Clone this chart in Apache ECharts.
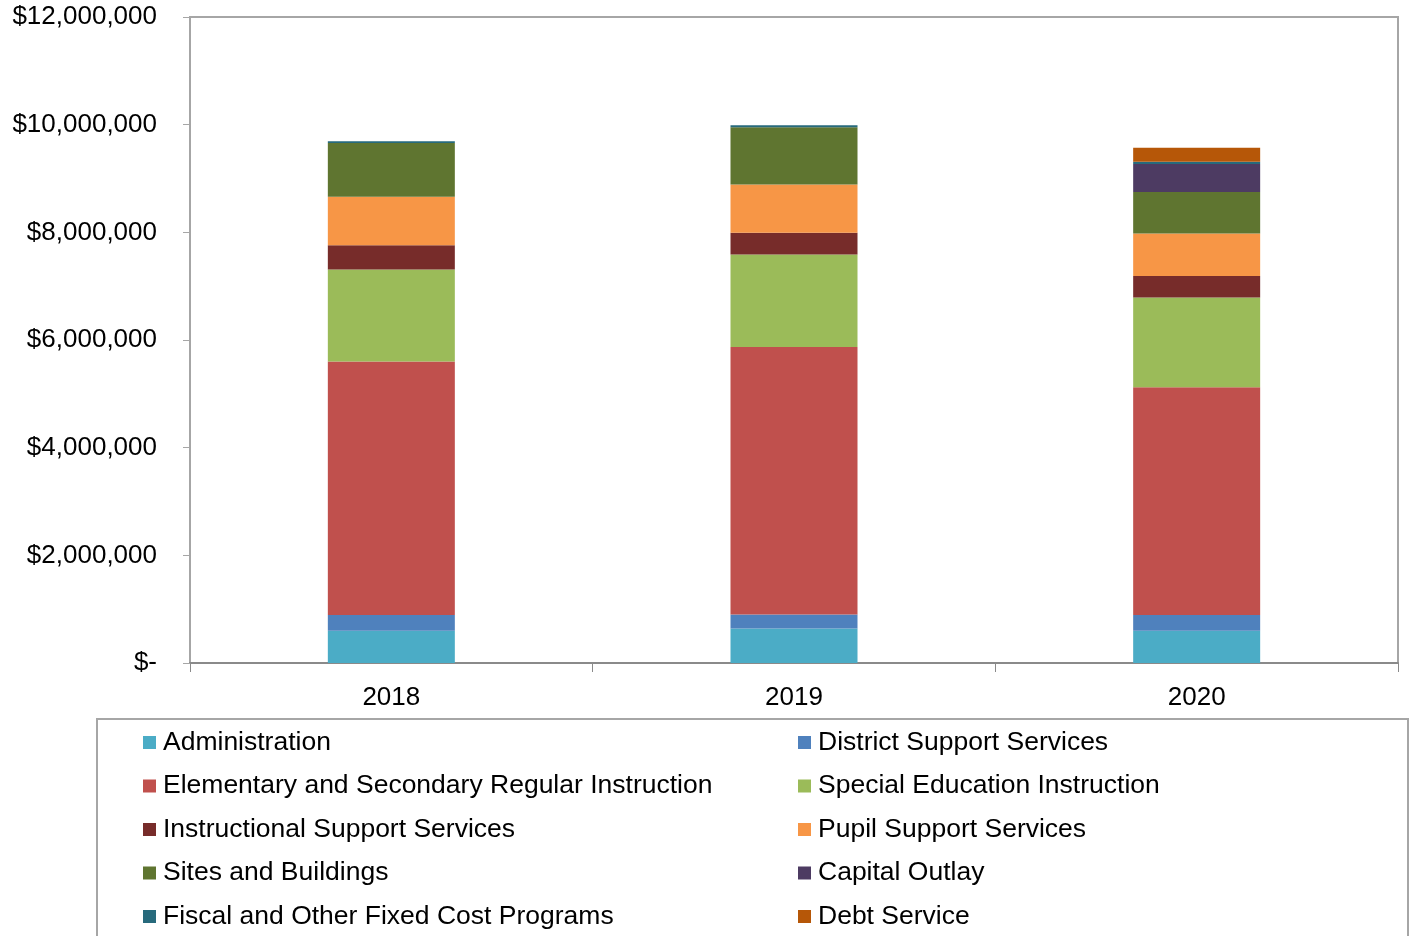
<!DOCTYPE html>
<html>
<head>
<meta charset="utf-8">
<script src="https://cdn.jsdelivr.net/npm/echarts@6/dist/echarts.min.js"></script>
<style>
html,body{margin:0;padding:0;background:#fff;}
#chart{width:1409px;height:936px;}
</style>
</head>
<body>
<div id="chart"></div>
<script>
const years = ['2018', '2019', '2020'];
const seriesNames = [
  'Administration', 'District Support Services',
  'Elementary and Secondary Regular Instruction', 'Special Education Instruction',
  'Instructional Support Services', 'Pupil Support Services',
  'Sites and Buildings', 'Capital Outlay',
  'Fiscal and Other Fixed Cost Programs', 'Debt Service'
];
const administration = [600000, 640000, 600000];
const districtSupport = [290000, 260000, 290000];
const elementarySecondary = [4710000, 4970000, 4230000];
const specialEducation = [1710000, 1720000, 1670000];
const instructionalSupport = [450000, 400000, 400000];
const pupilSupport = [900000, 900000, 790000];
const sitesBuildings = [1000000, 1060000, 770000];
const capitalOutlay = [0, 0, 520000];
const fiscalOther = [30000, 40000, 40000];
const debtService = [0, 0, 260000];
const yTicks = [0, 2000000, 4000000, 6000000, 8000000, 10000000, 12000000];

const values = [administration, districtSupport, elementarySecondary, specialEducation,
  instructionalSupport, pupilSupport, sitesBuildings, capitalOutlay, fiscalOther, debtService];
const colors = ['#4BACC6', '#4F81BD', '#C0504D', '#9BBB59', '#772C2A', '#F79646',
  '#5F7530', '#4D3B62', '#276A7C', '#B65708'];

const font = '"Liberation Sans", Arial, sans-serif';
const fs = 26;
const chart = echarts.init(document.getElementById('chart'));

const rowCenters = [742, 785.5, 829, 872.5, 916];
const colLefts = [143, 798];
const legends = seriesNames.map((name, i) => ({
  orient: 'horizontal', left: colLefts[i % 2], top: rowCenters[Math.floor(i / 2)] - 13,
  padding: 0, icon: 'rect', itemWidth: 13, itemHeight: 13,
  textStyle: { fontFamily: font, fontSize: 26.5, color: '#000', lineHeight: 26, padding: [0, 0, 0, 2] },
  data: [name], selectedMode: false
}));

chart.setOption({
  animation: false,
  backgroundColor: '#fff',
  grid: { left: 190, right: 11, top: 17, bottom: 273, show: true, borderColor: '#a6a6a6', borderWidth: 2 },
  legend: legends,
  graphic: [{
    type: 'rect',
    shape: { x: 97, y: 719, width: 1311, height: 240 },
    style: { fill: 'none', stroke: '#a6a6a6', lineWidth: 2 },
    silent: true
  }],
  xAxis: {
    type: 'category', data: years,
    axisLine: { lineStyle: { color: '#8a8a8a', width: 2 } },
    axisTick: { show: true, length: 9, lineStyle: { color: '#8a8a8a', width: 1 } },
    axisLabel: { fontFamily: font, fontSize: fs, color: '#000', margin: 22 }
  },
  yAxis: {
    type: 'value', min: yTicks[0], max: yTicks[yTicks.length - 1], interval: yTicks[1] - yTicks[0],
    splitLine: { show: false },
    axisLine: { show: true, lineStyle: { color: '#a6a6a6', width: 2 } },
    axisTick: { show: true, length: 7, lineStyle: { color: '#a6a6a6', width: 1 } },
    axisLabel: {
      fontFamily: font, fontSize: fs, color: '#000', margin: 33,
      formatter: v => v === 0 ? '$-' : '$' + v.toLocaleString('en-US')
    }
  },
  series: values.map((d, i) => ({
    name: seriesNames[i], type: 'bar', stack: 'total', data: d,
    barWidth: 127, itemStyle: { color: colors[i] }
  }))
});
</script>
</body>
</html>
